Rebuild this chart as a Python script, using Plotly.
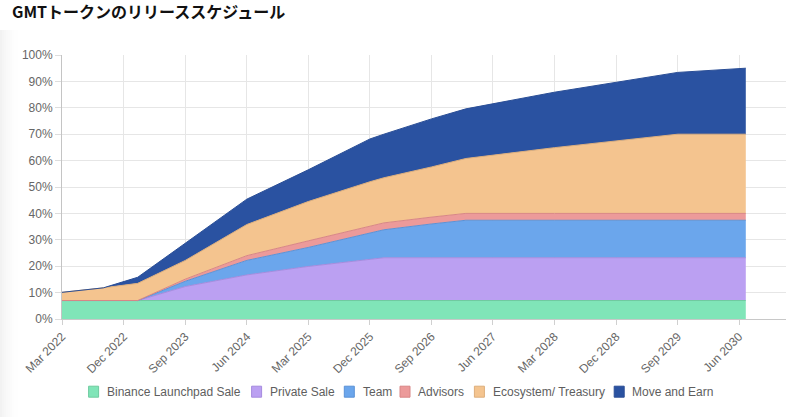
import plotly.graph_objects as go

# ---- data (cumulative release, % of total supply) ----
dates = ["2022-03-01", "2022-09-01", "2023-02-01", "2023-09-01", "2024-06-01",
         "2025-03-01", "2025-12-01", "2026-02-01", "2026-09-01", "2027-02-01",
         "2028-03-01", "2029-09-01", "2030-07-01"]
binance = [7.0, 7.0, 7.0, 7.0, 7.0, 7.0, 7.0, 7.0, 7.0, 7.0, 7.0, 7.0, 7.0]
private = [0.0, 0.0, 0.0, 5.3, 9.7, 12.9, 15.6, 16.2, 16.2, 16.2, 16.2, 16.2, 16.2]
team = [0.0, 0.0, 0.0, 2.0, 5.5, 7.2, 10.0, 10.6, 12.8, 14.2, 14.2, 14.2, 14.2]
advisors = [0.0, 0.0, 0.0, 0.8, 1.8, 2.5, 2.6, 2.6, 2.6, 2.6, 2.6, 2.6, 2.6]
ecosystem = [3.1, 4.8, 6.5, 7.1, 11.8, 14.9, 16.8, 17.1, 19.0, 20.8, 24.9, 30.0, 30.0]
move_earn = [0.0, 0.0, 2.3, 6.6, 9.6, 12.0, 16.2, 16.5, 18.2, 18.8, 21.0, 23.4, 25.0]

series_names = ["Binance Launchpad Sale", "Private Sale", "Team", "Advisors",
                "Ecosystem/ Treasury", "Move and Earn"]
series_values = [binance, private, team, advisors, ecosystem, move_earn]
fill_colors = ["#80E5B8", "#BBA0F2", "#6BA6EC", "#EC9A9A", "#F4C48F", "#2A52A1"]
line_colors = ["#6FCB9F", "#A68BDE", "#5B92D6", "#D88686", "#DDAE7B", "#2A4E96"]

title_text = "GMTトークンのリリーススケジュール"

# ---- layout geometry (pixels) ----
W, H = 800, 417
L, R, T, B = 62, 14, 55, 98
PW, PH = W - L - R, H - T - B


def px_x(p):
    return (p - L) / PW


def px_y(p):
    return (H - B - p) / PH


fig = go.Figure()
for name, vals, fc, lc in zip(series_names, series_values, fill_colors, line_colors):
    fig.add_trace(go.Scatter(
        x=dates, y=vals, name=name, mode="lines", stackgroup="one",
        fillcolor=fc, line=dict(color=lc, width=1), showlegend=False,
    ))

shapes = []
# soft page shadow on the left edge
alphas = [0.05, 0.04, 0.032, 0.025, 0.019, 0.014, 0.009, 0.005, 0.002]
for i, a in enumerate(alphas):
    shapes.append(dict(type="rect", xref="paper", yref="paper",
                       x0=px_x(i * 2), x1=px_x(i * 2 + 2),
                       y0=px_y(H), y1=px_y(30),
                       fillcolor=f"rgba(0,0,0,{a})", line=dict(width=0), layer="below"))

# custom legend (squares + labels)
legend_sq_left = [88.6, 251.6, 344.3, 400.0, 474.4, 614.2]
legend_y = 391.7
annotations = []
for name, fc, lc, sx in zip(series_names, fill_colors, line_colors, legend_sq_left):
    shapes.append(dict(type="rect", xref="paper", yref="paper",
                       x0=px_x(sx), x1=px_x(sx + 10),
                       y0=px_y(legend_y + 5.5), y1=px_y(legend_y - 5.5),
                       fillcolor=fc, line=dict(color=lc, width=1)))
    annotations.append(dict(text=name, xref="paper", yref="paper",
                            x=px_x(sx + 16.2), y=px_y(legend_y),
                            xanchor="left", yanchor="middle", showarrow=False,
                            font=dict(family="Liberation Sans, Arial", size=12, color="#5E5E5E")))

fig.update_layout(
    width=W, height=H,
    margin=dict(l=L, r=R, t=T, b=B, pad=0),
    paper_bgcolor="white", plot_bgcolor="white",
    showlegend=False,
    title=dict(text=title_text, x=12 / W, xanchor="left", xref="container",
               y=1 - 12 / H, yanchor="middle", yref="container",
               font=dict(family="Noto Sans CJK JP", size=16, color="#111111", weight=700)),
    shapes=shapes,
    annotations=annotations,
    xaxis=dict(
        type="date", range=["2022-03-01", "2030-12-27"],
        tick0="2022-03-01", dtick="M9", tickformat="%b %Y", tickangle=-45,
        showgrid=True, gridcolor="#E6E6E6", gridwidth=1,
        showline=True, linecolor="#C8C8C8", linewidth=1,
        ticks="outside", ticklen=5, tickcolor="#D0D0D0",
        tickfont=dict(family="Liberation Sans, Arial", size=12, color="#666666"),
        zeroline=False, automargin=False,
    ),
    yaxis=dict(
        range=[0, 100], dtick=10, ticksuffix="%",
        showgrid=True, gridcolor="#E6E6E6", gridwidth=1,
        showline=True, linecolor="#C4C4C4", linewidth=1,
        ticks="outside", ticklen=6, tickcolor="#DDDDDD",
        tickfont=dict(family="Liberation Sans, Arial", size=12, color="#666666"),
        zeroline=False, automargin=False,
    ),
)

fig.write_html("out.html")
